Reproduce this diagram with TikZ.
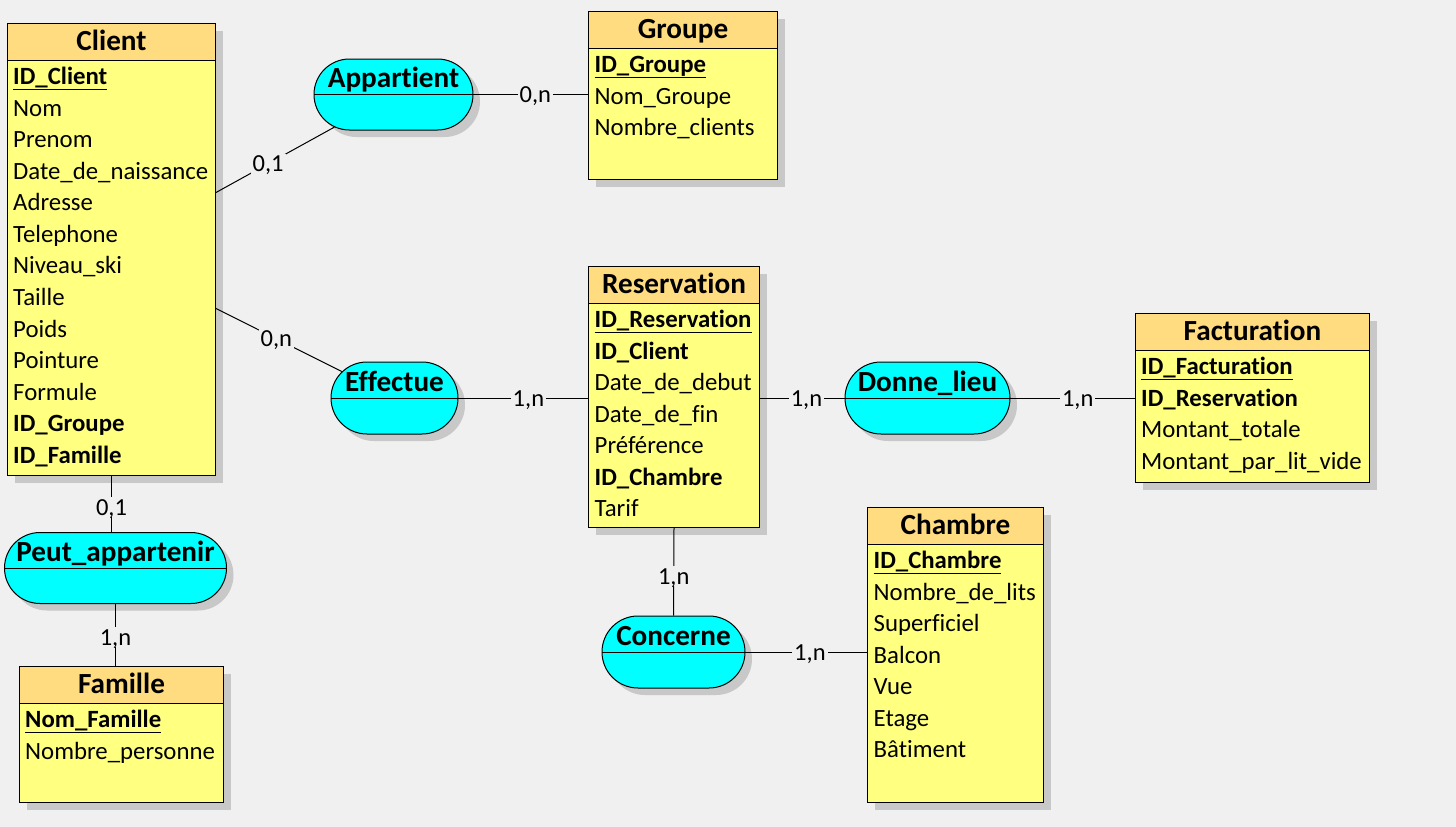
\documentclass[tikz,border=0pt]{standalone}
\usepackage{fontspec}
\setmainfont{Carlito}[Ligatures={NoCommon,NoRare,NoContextual}]
\usetikzlibrary{shapes.misc,shadows,calc}
\definecolor{bg}{HTML}{F0F0F0}
\definecolor{headcol}{HTML}{FFDC80}
\definecolor{bodycol}{HTML}{FFFF80}
\definecolor{relcol}{HTML}{00FFFF}
\definecolor{shadowcol}{HTML}{C8C8C8}
\newcommand\keyu[1]{\setbox0\hbox{#1}\rlap{\rule[-5.5pt]{\wd0}{1pt}}\box0}
\begin{document}
\begin{tikzpicture}[x=1pt,y=-1pt,
 every node/.style={font=\fontsize{24.8}{29}\selectfont},
 shad/.style={drop shadow={shadow xshift=7pt, shadow yshift=-7pt, fill=shadowcol, opacity=1}},
 entity/.style={draw=black, line width=1pt, fill=bodycol, inner sep=0pt, anchor=north west, shad,
   path picture={\fill[headcol] (path picture bounding box.north west) rectangle ([yshift=-36.5pt]path picture bounding box.north east);
   \draw[line width=1pt] ([yshift=-36.5pt]path picture bounding box.north west) -- ([yshift=-36.5pt]path picture bounding box.north east);}},
 relation/.style={rounded rectangle, draw=black, line width=1pt, fill=relcol, inner sep=0pt, shad},
 etitle/.style={font=\fontsize{29.2}{34}\selectfont\bfseries, inner sep=0pt, anchor=base},
 row/.style={inner sep=0pt, anchor=base west},
 card/.style={fill=bg, inner sep=2pt, text height=16pt, text depth=0pt, font=\fontsize{24.5}{29}\selectfont},
 link/.style={line width=1pt}
]
\fill[bg] (0,0) rectangle (1456,827);
\useasboundingbox (0,0) rectangle (1456,827);

% entities
\node[entity, minimum width=208pt, minimum height=452pt] (client) at (7,23) {};
\node[entity, minimum width=189pt, minimum height=168pt] (groupe) at (588,11) {};
\node[entity, minimum width=171pt, minimum height=261pt] (reservation) at (588,266) {};
\node[entity, minimum width=234pt, minimum height=169pt] (facturation) at (1135,313) {};
\node[entity, minimum width=176pt, minimum height=295pt] (chambre) at (867,507) {};
\node[entity, minimum width=204pt, minimum height=136pt] (famille) at (19,666) {};

% relations
\node[relation, minimum width=159pt, minimum height=71pt] (appartient) at (393.5,94.5) {};
\node[relation, minimum width=127pt, minimum height=72pt] (effectue) at (394.5,398) {};
\node[relation, minimum width=165pt, minimum height=72pt] (donne) at (927.5,398) {};
\node[relation, minimum width=222pt, minimum height=71pt] (peut) at (115.5,568) {};
\node[relation, minimum width=143pt, minimum height=72pt] (concerne) at (673.5,652) {};

\foreach \r in {appartient,effectue,donne,peut,concerne}
  \draw[link] (\r.west) -- (\r.east);

% titles
\node[etitle] (client-t) at ($(client.north)+(0,27.5)$) {Client};
\node[etitle] (groupe-t) at ($(groupe.north)+(0,27.5)$) {Groupe};
\node[etitle] (reservation-t) at ($(reservation.north)+(0,27.5)$) {Reservation};
\node[etitle] (facturation-t) at ($(facturation.north)+(0,27.5)$) {Facturation};
\node[etitle] (chambre-t) at ($(chambre.north)+(0,27.5)$) {Chambre};
\node[etitle] (famille-t) at ($(famille.north)+(0,27.5)$) {Famille};
\node[etitle] (appartient-t) at ($(appartient.center)+(0,-7)$) {Appartient};
\node[etitle] (effectue-t) at ($(effectue.center)+(0,-7)$) {Effectue};
\node[etitle] (donne-t) at ($(donne.center)+(0,-7)$) {Donne\_lieu};
\node[etitle] (peut-t) at ($(peut.center)+(0,-7)$) {Peut\_appartenir};
\node[etitle] (concerne-t) at ($(concerne.center)+(0,-7)$) {Concerne};

% rows
\foreach \t [count=\i] in {{\keyu{\textbf{ID\_Client}}},Nom,Prenom,Date\_de\_naissance,Adresse,Telephone,Niveau\_ski,Taille,Poids,Pointure,Formule,{\textbf{ID\_Groupe}},{\textbf{ID\_Famille}}}
  \node[row] (client-r\i) at ($(client.north west)+(6,61.5+31.58*\i-31.58)$) {\t};
\foreach \t [count=\i] in {{\keyu{\textbf{ID\_Groupe}}},Nom\_Groupe,Nombre\_clients}
  \node[row] (groupe-r\i) at ($(groupe.north west)+(6.5,61.5+31.58*\i-31.58)$) {\t};
\foreach \t [count=\i] in {{\keyu{\textbf{ID\_Reservation}}},{\textbf{ID\_Client}},Date\_de\_debut,Date\_de\_fin,Préférence,{\textbf{ID\_Chambre}},Tarif}
  \node[row] (reservation-r\i) at ($(reservation.north west)+(6.5,61.5+31.58*\i-31.58)$) {\t};
\foreach \t [count=\i] in {{\keyu{\textbf{ID\_Facturation}}},{\textbf{ID\_Reservation}},Montant\_totale,Montant\_par\_lit\_vide}
  \node[row] (facturation-r\i) at ($(facturation.north west)+(6,61.5+31.58*\i-31.58)$) {\t};
\foreach \t [count=\i] in {{\keyu{\textbf{ID\_Chambre}}},Nombre\_de\_lits,Superficiel,Balcon,Vue,Etage,Bâtiment}
  \node[row] (chambre-r\i) at ($(chambre.north west)+(6.5,61.5+31.58*\i-31.58)$) {\t};
\foreach \t [count=\i] in {{\keyu{\textbf{Nom\_Famille}}},Nombre\_personne}
  \node[row] (famille-r\i) at ($(famille.north west)+(6,61.5+31.58*\i-31.58)$) {\t};

% connectors
\draw[link] ([yshift=57pt]client.east) -- (appartient) node[card,pos=0.44] (c1) {0,1};
\draw[link] ([yshift=-59pt]client.east) -- (effectue) node[card,pos=0.48] (c2) {0,n};
\draw[link] (appartient.east) -- (appartient.east -| groupe.west) node[card,pos=0.54] (c3) {0,n};
\draw[link] (effectue.east) -- (effectue.east -| reservation.west) node[card,pos=0.54] (c4) {1,n};
\draw[link] (reservation.east |- donne.west) -- (donne.west) node[card,pos=0.55] (c5) {1,n};
\draw[link] (donne.east) -- (donne.east -| facturation.west) node[card,pos=0.54] (c6) {1,n};
\draw[link] (concerne.east) -- (concerne.east -| chambre.west) node[card,pos=0.53] (c7) {1,n};
\draw[link] (client.south) -- (client.south |- peut.north) node[card,pos=0.56] (c8) {0,1};
\draw[link] (peut.south) -- (peut.south |- famille.north) node[card,pos=0.54] (c9) {1,n};
\draw[link] (reservation.south) -- (concerne.north) node[card,pos=0.55] (c10) {1,n};
\end{tikzpicture}
\end{document}
